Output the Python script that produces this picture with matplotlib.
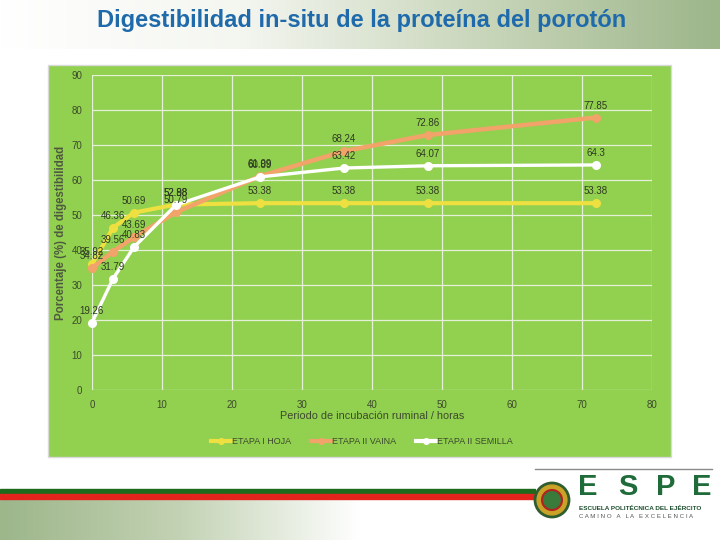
import numpy as np
import matplotlib
matplotlib.use("Agg")
import matplotlib.pyplot as plt
from matplotlib.lines import Line2D
from matplotlib.patches import Rectangle, Circle
from matplotlib.colors import LinearSegmentedColormap

plt.rcParams['font.family'] = ['Liberation Sans', 'DejaVu Sans']

# ---- data ----
hours = [0, 3, 6, 12, 24, 36, 48, 72]
hoja = [35.92, 46.36, 50.69, 52.98, 53.38, 53.38, 53.38, 53.38]
vaina = [34.82, 39.56, 43.69, 50.79, 61.09, 68.24, 72.86, 77.85]
semilla = [19.26, 31.79, 40.83, 52.88, 60.89, 63.42, 64.07, 64.3]
series_names = ["ETAPA I HOJA", "ETAPA II VAINA", "ETAPA II SEMILLA"]
x_ticks = list(range(0, 81, 10))
y_ticks = list(range(0, 91, 10))

title = "Digestibilidad in-situ de la proteína del porotón"
xlabel = "Periodo de incubación ruminal / horas"
ylabel = "Porcentaje (%) de digestibilidad"

W, H = 720, 540
fig = plt.figure(figsize=(7.2, 5.4), dpi=100)
fig.patch.set_facecolor('white')

def fx(px):
    return px / W

def fy(py):
    return 1 - py / H

# background decoration axes
bg = fig.add_axes([0, 0, 1, 1], zorder=0)
bg.set_xlim(0, W)
bg.set_ylim(H, 0)
bg.axis('off')

grad = np.linspace(0, 1, 256).reshape(1, -1)
cm_top = LinearSegmentedColormap.from_list('t', ['#ffffff', '#f4f6f0', '#c9d6bb', '#9db68a'])
bg.imshow(grad, extent=[0, W, 49, 0], aspect='auto', cmap=cm_top, zorder=0)
cm_bot = LinearSegmentedColormap.from_list('b', ['#9db68a', '#c3d2b4', '#ffffff', '#ffffff'])
bg.imshow(grad, extent=[0, 540, H, 498], aspect='auto', cmap=cm_bot, zorder=0)
bg.add_patch(Rectangle((0, 489), 535, 5, color='#1d6a1d', zorder=1))
bg.add_patch(Rectangle((0, 494), 535, 5, color='#e3241c', zorder=1))
bg.plot([535, 712], [469, 469], color='#8a8a8a', lw=1, zorder=1)

# green chart panel
bg.add_patch(Rectangle((48, 65), 623, 392, facecolor='#92d050', edgecolor='#d9d9d9', lw=1, zorder=1))

# logo
bg.add_patch(Circle((552, 500), 17, facecolor='#c9a227', edgecolor='#2f5d2f', lw=2, zorder=2))
bg.add_patch(Circle((552, 500), 10, facecolor='#3a7a3a', edgecolor='#b22222', lw=1.5, zorder=3))
for lx, letter in zip([578, 618, 656, 692], "ESPE"):
    bg.text(lx, 501, letter, fontsize=21, fontweight='bold', color='#1f6b3a', va='bottom', ha='left')
bg.text(579, 508, "ESCUELA POLITÉCNICA DEL EJÉRCITO", fontsize=4.6, fontweight='bold',
        color='#1f4f2f', va='center', ha='left')
bg.text(579, 516, "C A M I N O   A   L A   E X C E L E N C I A", fontsize=4.4,
        color='#555555', va='center', ha='left')

# title
bg.text(362, 20, title, fontsize=17, fontweight='bold', color='#1f6aaa', ha='center', va='center')

# main axes
ax = fig.add_axes([fx(92), fy(390), fx(652) - fx(92), fy(75) - fy(390)], zorder=2)
ax.set_facecolor('none')
ax.set_xlim(0, 80)
ax.set_ylim(0, 90)
ax.set_xticks(x_ticks)
ax.set_yticks(y_ticks)
ax.grid(True, color='#e4f1d8', lw=0.9)
for s in ax.spines.values():
    s.set_visible(False)
ax.tick_params(length=0, labelsize=7, colors='#3c4a2c', pad=7)
ax.set_xlabel(xlabel, fontsize=7.8, color='#3c4a2c', labelpad=1)
ax.set_ylabel(ylabel, fontsize=8.3, fontweight='bold', color='#4f5a40', labelpad=3)

colors = ['#ede040', '#f2a36a', '#ffffff']
data = [hoja, vaina, semilla]
lws = [3, 3.2, 2.4]
for vals, c, lw, name in zip(data, colors, lws, series_names):
    ax.plot(hours, vals, color=c, lw=lw, marker='o', ms=5.5, mec=c, mfc=c, label=name,
            solid_capstyle='round', clip_on=False, zorder=3)
    for xv, yv in zip(hours, vals):
        ax.annotate(f"{yv:g}", (xv, yv), xytext=(0, 5), textcoords='offset points',
                    ha='center', va='bottom', fontsize=7, color='#2e3a22', zorder=4)

handles = [Line2D([], [], color=c, lw=3, marker='o', ms=4, mfc=c, mec=c) for c in colors]
fig.legend(handles, series_names, loc='center', bbox_to_anchor=(fx(362), fy(442)), ncol=3,
           frameon=False, fontsize=6.5, labelcolor='#3c4a2c', handlelength=2.2,
           handletextpad=0.1, columnspacing=2.2)

fig.savefig("out.png", dpi=100)
